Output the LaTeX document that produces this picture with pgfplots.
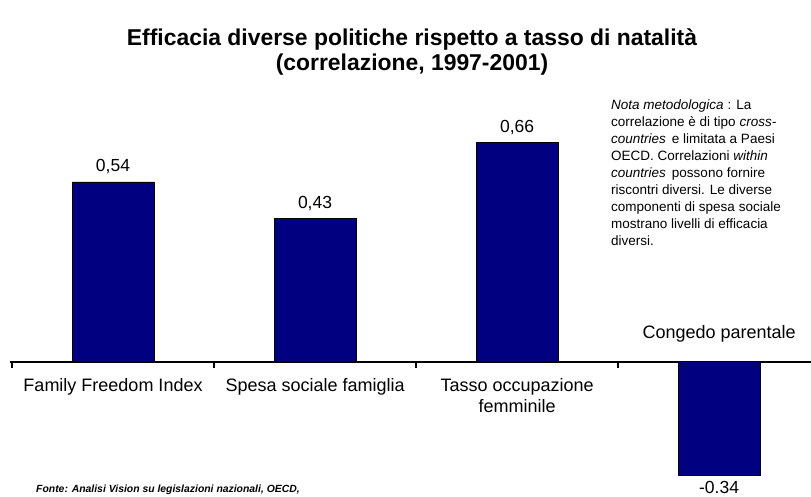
\documentclass[border=0pt]{standalone}
\usepackage{pgfplots}
\pgfplotsset{compat=1.18}
\usepackage{fontspec}
\setmainfont{Liberation Sans}
\definecolor{barblue}{RGB}{0,0,128}
\begin{document}
\begin{tikzpicture}[x=1pt,y=1pt]
\path[use as bounding box] (0,0) rectangle (811,496);
\begin{axis}[
  at={(10pt,21pt)}, anchor=south west,
  scale only axis, width=801pt, height=333pt,
  xmin=-0.51, xmax=3.455, ymin=-0.34, ymax=0.66,
  axis x line*=middle, axis y line=none,
  x axis line style={line width=2.5pt, -},
  xtick={0,1,2},
  xticklabels={Family Freedom Index, Spesa sociale famiglia, {Tasso occupazione\\femminile}},
  major tick length=0pt,
  major x tick style={draw=none},
  minor xtick={-0.5,0.5,1.5,2.5},
  minor x tick style={line width=1.5pt, black},
  minor tick length=6pt,
  tick align=outside,
  xticklabel style={font=\fontsize{18}{21.5}\selectfont, align=center, inner sep=0pt, anchor=north, yshift=-16pt},
  ybar, bar width=82pt, bar shift=0pt,
  clip=false,
]
\addplot[fill=barblue, draw=black, line width=0.6pt,
  nodes near coords, point meta=explicit symbolic,
  nodes near coords align={anchor=base},
  every node near coord/.append style={font=\fontsize{17.5}{21}\selectfont, anchor=base, inner sep=0pt, yshift=10pt, text=black}]
  table[meta=lab] {
x y lab
0 0.54 {0,54}
1 0.43 {0,43}
2 0.66 {0,66}
};
\addplot[fill=barblue, draw=black, line width=0.6pt,
  nodes near coords, point meta=explicit symbolic,
  nodes near coords align={anchor=north},
  every node near coord/.append style={font=\fontsize{17.5}{21}\selectfont, anchor=north, inner sep=0pt, yshift=-6pt, text=black}]
  table[meta=lab] {
x y lab
3 -0.34 -0.34
};
\node[anchor=base, inner sep=0pt, font=\fontsize{18}{21}\selectfont] at (axis cs:3,0) [yshift=23pt] {Congedo parentale};
\end{axis}
\node[anchor=base, inner sep=0pt, font=\fontsize{22.9}{25}\selectfont\bfseries] at (412,450) {Efficacia diverse politiche rispetto a tasso di natalità};
\node[anchor=base, inner sep=0pt, font=\fontsize{22.9}{25}\selectfont\bfseries] at (412,425) {(correlazione, 1997-2001)};
\node[anchor=north west, inner sep=0pt, align=left, font=\fontsize{13.5}{16.9}\selectfont] at (611,396) {%
\textit{Nota metodologica} : La\\
correlazione è di tipo \textit{cross-}\\
\textit{countries}\, e limitata a Paesi\\
OECD. Correlazioni \textit{within}\\
\textit{countries}\, possono fornire\\
riscontri diversi. Le diverse\\
componenti di spesa sociale\\
mostrano livelli di efficacia\\
diversi.};
\node[anchor=base west, inner sep=0pt, font=\fontsize{10.4}{12}\selectfont\bfseries\itshape] at (36,4) {Fonte: Analisi Vision su legislazioni nazionali, OECD,};
\end{tikzpicture}
\end{document}
